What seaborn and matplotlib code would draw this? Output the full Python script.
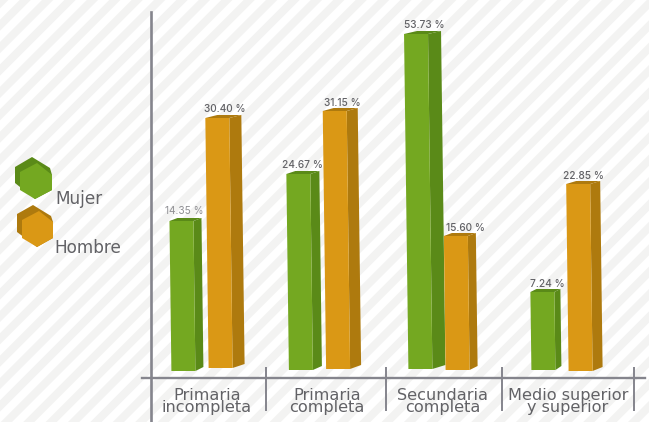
import matplotlib
matplotlib.use('Agg')
import matplotlib.pyplot as plt
from matplotlib.patches import Polygon
from matplotlib.transforms import IdentityTransform
import numpy as np
import pandas as pd
import seaborn as sns

niveles = ['Primaria\nincompleta', 'Primaria\ncompleta', 'Secundaria\ncompleta', 'Medio superior\ny superior']
mujer_pct = [14.35, 24.67, 53.73, 7.24]
hombre_pct = [30.40, 31.15, 15.60, 22.85]
# the printed percentages are not proportional to the drawn bars in the picture,
# so bar heights are read off it separately (pixels above the baseline)
mujer_alto = [149, 196, 336, 78]
hombre_alto = [252, 259, 134, 186]

W, H = 649, 422
BASE_Y = 370   # pixel row of height 0
AXIS_Y = 378
PX_X = 120     # pixels per category
GRIS = '#85858d'
TEXTO = '#626266'

sns.set_theme(style='white')
plt.rcParams['font.family'] = ['Inter', 'DejaVu Sans']

df = pd.DataFrame({
    'nivel': niveles * 2,
    'sexo': ['Mujer'] * 4 + ['Hombre'] * 4,
    'alto': mujer_alto + hombre_alto,
})

fig = plt.figure(figsize=(W / 100, H / 100), dpi=100, facecolor='white')

# diagonal stripes of the background
for x0 in np.arange(68 - 22.4 * 22, W + 30, 22.4):
    fig.add_artist(Polygon([(x0, 0), (x0 + 11.2, 0), (x0 + 11.2 + H, H), (x0 + H, H)],
                           closed=True, transform=IdentityTransform(),
                           facecolor='#f3f3f2', edgecolor='none', zorder=-5))

ax = fig.add_axes([0, (H - AXIS_Y) / H, 1, AXIS_Y / H])
ax.patch.set_alpha(0)
sns.barplot(data=df, x='nivel', y='alto', hue='sexo',
            palette={'Mujer': '#74a821', 'Hombre': '#da9815'},
            width=0.62, gap=0.355, saturation=1, legend=False, ax=ax)
ax.set_xlim(-202 / PX_X, (W - 202) / PX_X)
ax.set_ylim(BASE_Y - AXIS_Y, BASE_Y)
ax.set_xlabel('')
ax.set_ylabel('')
ax.set_yticks([])


def to_x(px):
    return (px - 202) / PX_X


# pseudo 3d bars built from what seaborn drew
desvio = [0, -2.5, -3, 0]
fondo = [[-1, 0, 1, 0], [2, 1, 0, -1]]
prof = [[8, 9, 13, 6], [12, 11, 8, 10]]
sombra = ['#5a8a18', '#ae7a0e']
pcts = [mujer_pct, hombre_pct]
etiqueta_dx = [[-1, 0, 2, 2], [1, 2, 6, 0]]
etiqueta_dy = [[5, 4.5, 4, 3], [4, 3, 3, 3]]
for s, cont in enumerate(ax.containers):
    for i, bar in enumerate(cont):
        h = bar.get_height()
        x0 = bar.get_x() * PX_X + desvio[i]
        x1 = x0 + bar.get_width() * PX_X
        b = fondo[s][i]
        lean = 0.013 * h
        d = prof[s][i]
        color = bar.get_facecolor()
        bar.set_visible(False)
        front = [(x0, b), (x1, b), (x1 - lean, h), (x0 - lean, h)]
        side = [(x1, b), (x1 + d, b + 4), (x1 + d - lean, h + 3), (x1 - lean, h)]
        top = [(x0 - lean, h), (x1 - lean, h), (x1 + d - lean, h + 3), (x0 + d - lean, h + 3)]
        for pts, c in ((side, sombra[s]), (top, sombra[s]), (front, color)):
            pts = [(px / PX_X, y) for px, y in pts]
            ax.add_patch(Polygon(pts, closed=True, facecolor=c, edgecolor='none', zorder=3))
        gris = i == 0 and s == 0
        ax.text(((x0 + x1 + d) / 2 - lean + etiqueta_dx[s][i]) / PX_X, h + etiqueta_dy[s][i],
                f'{pcts[s][i]:.2f} %', ha='center', va='bottom', fontsize=7.3,
                color='#8f8f93' if gris else TEXTO,
                fontweight='normal' if gris else 'medium')

# axis lines and separators
for name in ('top', 'right'):
    ax.spines[name].set_visible(False)
ax.spines['bottom'].set_color(GRIS)
ax.spines['bottom'].set_linewidth(1.7)
ax.spines['bottom'].set_bounds(to_x(142), to_x(645))
ax.spines['left'].set_color(GRIS)
ax.spines['left'].set_linewidth(1.9)
ax.spines['left'].set_position(('data', to_x(151)))
ax.spines['left'].set_bounds(BASE_Y - H, BASE_Y - 12)
ax.vlines([to_x(p) for p in (266, 386, 502, 634)], BASE_Y - 411, BASE_Y - 367,
          color=GRIS, linewidth=1.4, clip_on=False)

ax.set_xticks(range(4), [])
ax.tick_params(axis='x', length=0)
centros = [207, 327, 443, 568]
for px, nombre in zip(centros, niveles):
    ax.text(to_x(px), BASE_Y - 401.5, nombre, ha='center', va='center', fontsize=11.6,
            family=['DejaVu Sans'], color=TEXTO, linespacing=0.82, clip_on=False)

# legend keys
hex_oscuro = [[(32, 157), (15, 167), (15, 183), (35, 199), (52, 190), (52, 175), (50, 168)],
              [(33, 205), (17, 214), (17, 232), (37, 247), (53, 238), (53, 222), (51, 216)]]
hex_claro = [[(20, 172), (37, 163), (52, 175), (52, 190), (35, 199), (20, 190)],
             [(22, 220), (39, 211), (53, 222), (53, 238), (37, 247), (22, 238)]]
claros = ['#74a821', '#da9815']
for s in range(2):
    for pts, c in ((hex_oscuro[s], sombra[s]), (hex_claro[s], claros[s])):
        fig.add_artist(Polygon([(x, H - y) for x, y in pts], closed=True,
                               transform=IdentityTransform(), facecolor=c, edgecolor='none'))
fig.text(55 / W, 1 - 199 / H, 'Mujer', fontsize=12.2, family=['DejaVu Sans'], color=TEXTO, va='center')
fig.text(54 / W, 1 - 248 / H, 'Hombre', fontsize=12.2, family=['DejaVu Sans'], color=TEXTO, va='center')

fig.savefig('out.png', dpi=100)
